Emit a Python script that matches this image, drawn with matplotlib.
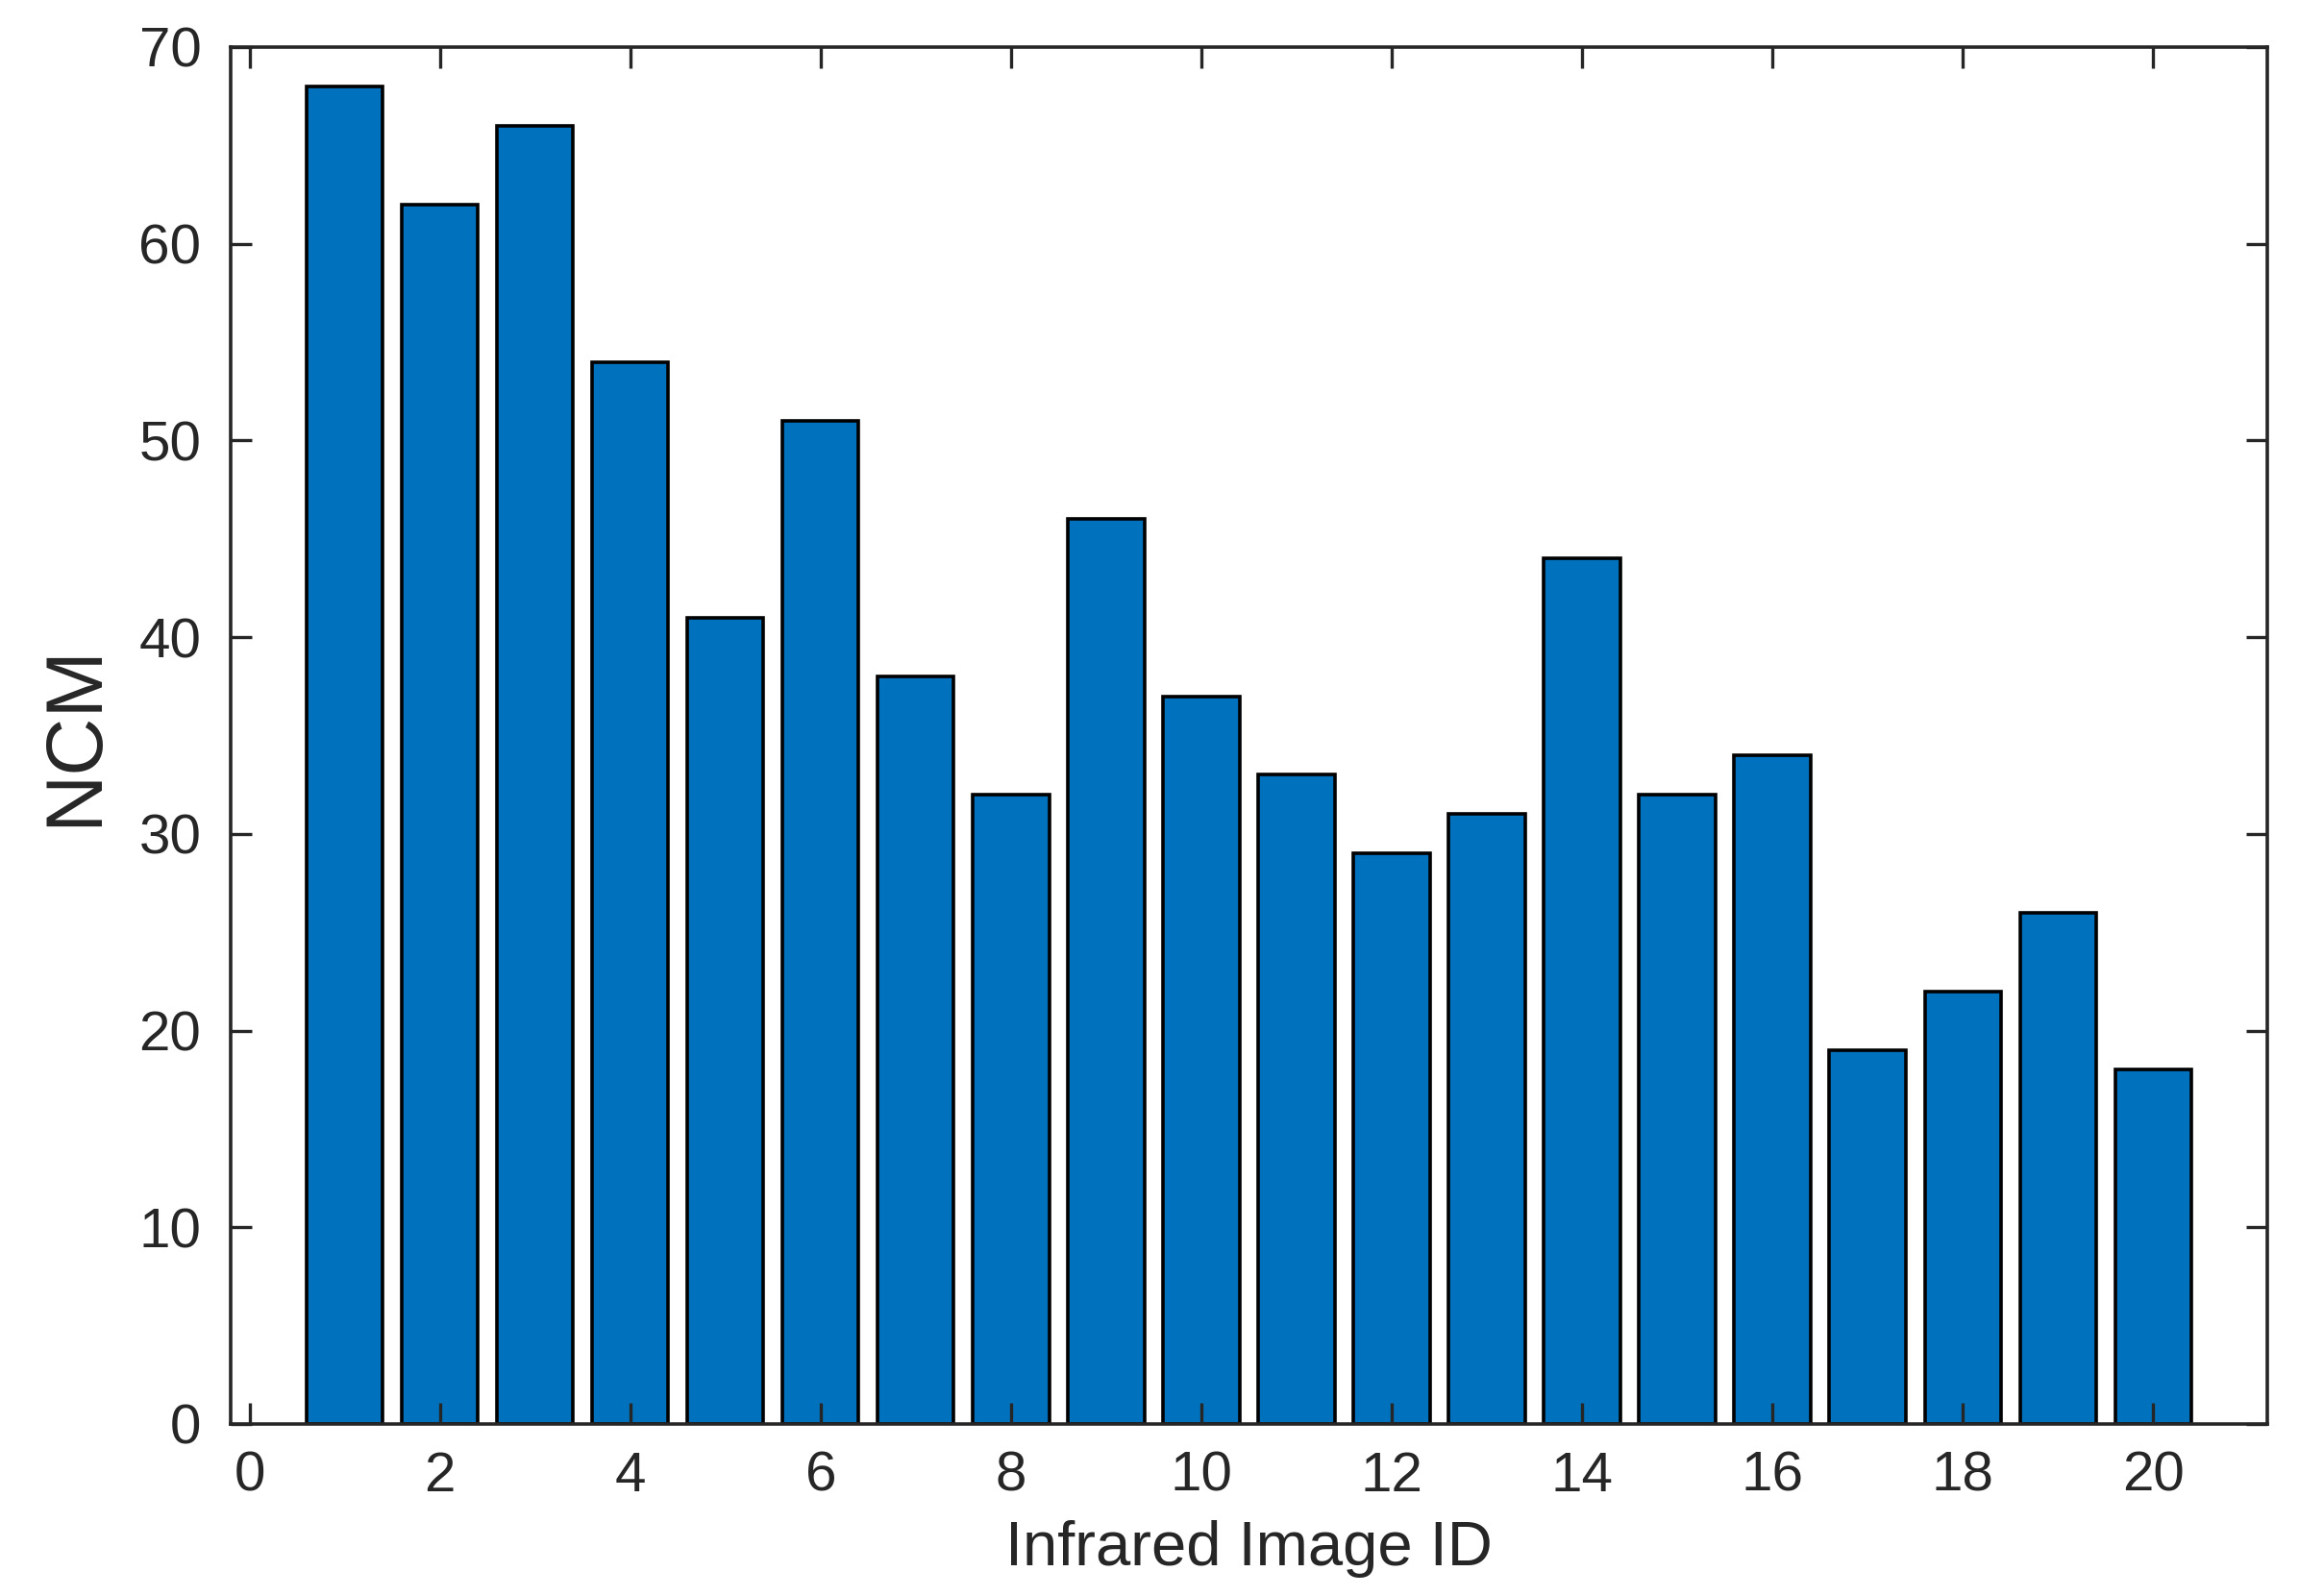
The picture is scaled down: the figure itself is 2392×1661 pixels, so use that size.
import matplotlib
matplotlib.use("Agg")
import matplotlib.pyplot as plt

# NCM per infrared image
image_ids = list(range(1, 21))
ncm = [68, 62, 66, 54, 41, 51, 38, 32, 46, 37, 33, 29, 31, 44, 32, 34, 19, 22, 26, 18]
xticks = list(range(0, 21, 2))
yticks = list(range(0, 71, 10))

plt.rcParams['font.family'] = ['Liberation Sans', 'DejaVu Sans']

fig = plt.figure(figsize=(11.96, 8.305), dpi=200)
ax = fig.add_axes([0.1003, 0.1078, 0.8859, 0.8627])

ax.bar(image_ids, ncm, width=0.8, color='#0072BD', edgecolor='black', linewidth=1.3)

ax.set_xlim(-0.2, 21.2)
ax.set_ylim(0, 70)
ax.set_xticks(xticks)
ax.set_yticks(yticks)

ax.tick_params(direction='in', length=8, width=1.2, colors='#262626',
               labelsize=21, top=True, right=True)
ax.tick_params(axis='x', pad=10)
ax.tick_params(axis='y', pad=11)
for s in ax.spines.values():
    s.set_linewidth(1.3)
    s.set_color('#262626')

ax.set_xlabel('Infrared Image ID', fontsize=23.5, color='#262626')
ax.set_ylabel('NCM', fontsize=30, color='#262626')
ax.xaxis.set_label_coords(0.5, -0.07)
ax.yaxis.set_label_coords(-0.058, 0.5)

fig.savefig('out.png', dpi=200)
